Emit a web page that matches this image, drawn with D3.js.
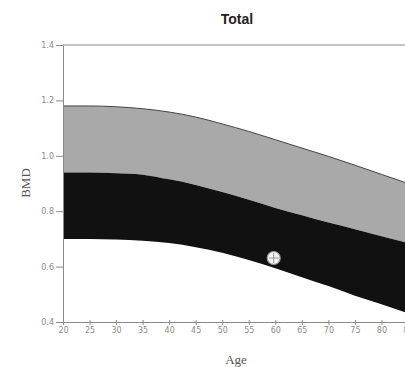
<!DOCTYPE html>
<html>
<head>
<meta charset="utf-8">
<script src="https://cdn.jsdelivr.net/npm/d3@7"></script>
<style>
  body { margin: 0; background: #fff; }
  svg { display: block; }
  .axis path, .axis line { stroke: #8a8a8a; }
  .axis text { fill: #8a8a8a; font-family: "DejaVu Sans", sans-serif; font-size: 8px; }
</style>
</head>
<body>
<div id="chart"></div>
<script>
// reference curves (BMD by age)
const ages = [20, 25, 30, 35, 40, 45, 50, 55, 60, 65, 70, 75, 80, 85];
const upper = [1.18, 1.18, 1.177, 1.17, 1.158, 1.14, 1.115, 1.088, 1.058, 1.028, 0.998, 0.966, 0.933, 0.90];
const middle = [0.94, 0.94, 0.937, 0.932, 0.915, 0.895, 0.869, 0.841, 0.812, 0.785, 0.759, 0.735, 0.71, 0.685];
const lower = [0.70, 0.70, 0.698, 0.693, 0.685, 0.67, 0.65, 0.624, 0.594, 0.562, 0.53, 0.495, 0.464, 0.432];
const patient = { age: 59.7, bmd: 0.631 };
const yTicks = [0.4, 0.6, 0.8, 1.0, 1.2, 1.4];
const xTicks = [20, 25, 30, 35, 40, 45, 50, 55, 60, 65, 70, 75, 80, 85];

const width = 405, height = 367;
const mLeft = 63, mRight = 408, mTop = 45, mBottom = 322;

const svg = d3.select("#chart").append("svg")
  .attr("width", width)
  .attr("height", height);

const x = d3.scaleLinear().domain([20, 85]).range([mLeft, mRight]);
const y = d3.scaleLinear().domain([0.4, 1.4]).range([mBottom, mTop]);

const rows = ages.map((a, i) => ({ age: a, up: upper[i], mid: middle[i], low: lower[i] }));

const band = (hi, lo) => d3.area()
  .x(d => x(d.age))
  .y0(d => y(d[lo]))
  .y1(d => y(d[hi]))
  .curve(d3.curveMonotoneX);

svg.append("path").datum(rows)
  .attr("d", band("up", "mid"))
  .attr("fill", "#a9a9a9");

svg.append("path").datum(rows)
  .attr("d", band("mid", "low"))
  .attr("fill", "#111");

svg.append("path").datum(rows)
  .attr("d", d3.line().x(d => x(d.age)).y(d => y(d.up)).curve(d3.curveMonotoneX))
  .attr("fill", "none")
  .attr("stroke", "#444")
  .attr("stroke-width", 1);

// frame
svg.append("line")
  .attr("x1", mLeft).attr("x2", mRight)
  .attr("y1", mTop).attr("y2", mTop)
  .attr("stroke", "#8a8a8a");

svg.append("g")
  .attr("class", "axis")
  .attr("transform", `translate(${mLeft},0)`)
  .call(d3.axisLeft(y).tickValues(yTicks).tickFormat(d3.format(".1f")).tickSize(7).tickPadding(2).tickSizeOuter(0));

const xa = svg.append("g")
  .attr("class", "axis")
  .attr("transform", `translate(0,${mBottom})`)
  .call(d3.axisBottom(x).tickValues(xTicks).tickSize(3).tickPadding(2).tickSizeOuter(0));
xa.selectAll(".tick line").attr("y1", -2);

// patient measurement
const g = svg.append("g").attr("transform", `translate(${x(patient.age)},${y(patient.bmd)})`);
g.append("circle").attr("r", 6.5).attr("fill", "#f4f4f4").attr("stroke", "#999").attr("stroke-width", 1.2);
g.append("line").attr("x1", -5).attr("x2", 5).attr("stroke", "#999");
g.append("line").attr("y1", -5).attr("y2", 5).attr("stroke", "#999");

svg.append("text")
  .attr("x", 237).attr("y", 24)
  .attr("text-anchor", "middle")
  .attr("font-family", "Liberation Sans, Arial, sans-serif")
  .attr("font-weight", "bold")
  .attr("font-size", 14)
  .attr("fill", "#222")
  .text("Total");

svg.append("text")
  .attr("transform", "translate(30,183) rotate(-90)")
  .attr("text-anchor", "middle")
  .attr("font-family", "Liberation Serif, Times New Roman, serif")
  .attr("font-size", 13)
  .attr("fill", "#555")
  .text("BMD");

svg.append("text")
  .attr("x", 236).attr("y", 364)
  .attr("text-anchor", "middle")
  .attr("font-family", "Liberation Serif, Times New Roman, serif")
  .attr("font-size", 13)
  .attr("fill", "#555")
  .text("Age");
</script>
</body>
</html>
